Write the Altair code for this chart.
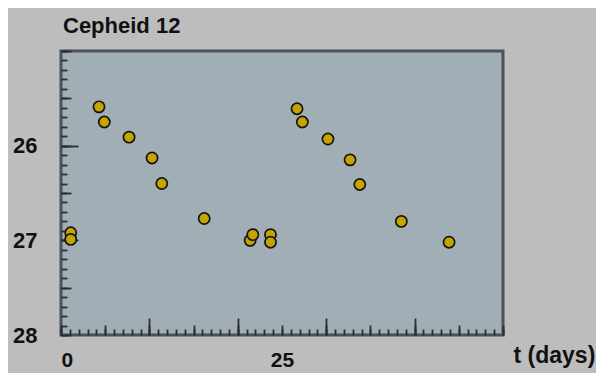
import altair as alt
import pandas as pd

# Data
t_days = [1.1, 1.1, 4.3, 4.9, 7.7, 10.3, 11.4, 16.2, 21.4, 21.7, 23.7, 23.7,
          26.7, 27.3, 30.2, 32.7, 33.8, 38.5, 43.9]
magnitude = [26.92, 26.99, 25.59, 25.75, 25.91, 26.13, 26.40, 26.77, 27.00, 26.94,
             26.94, 27.02, 25.61, 25.75, 25.93, 26.15, 26.41, 26.80, 27.02]

x_labels = [0, 25]
y_labels = [26, 27, 28]
x_minor = list(range(0, 51))
x_medium = list(range(0, 51, 5))
x_major = [10, 20, 30, 40]
y_minor = [round(25 + 0.1 * i, 1) for i in range(31)]
y_medium = [round(25 + 0.5 * i, 1) for i in range(7)]
y_major = [26, 27]

df = pd.DataFrame({"t": t_days, "m": magnitude})

FONT = "Liberation Sans"
TICK = "#2a2e31"

xs = alt.Scale(domain=[0, 50], nice=False, zero=False)
ys = alt.Scale(domain=[25, 28], nice=False, zero=False, reverse=True)

points = alt.Chart(df).mark_circle(
    size=125, color="#c4a500", opacity=1, stroke="#141414", strokeWidth=1.7
).encode(
    x=alt.X("t:Q", scale=xs, axis=alt.Axis(
        values=x_labels, ticks=False, domain=False, grid=False, orient="bottom",
        labelFont=FONT, labelFontSize=21, labelFontWeight="bold", labelColor="#111111",
        labelPadding=14, labelBaseline="top",
        labelAlign={"condition": {"test": "datum.value <= 0", "value": "left"}, "value": "center"},
        title="t (days)", titleFont=FONT, titleFontSize=23, titleFontWeight="bold",
        titleColor="#111111", titleX=452, titleY=20, titleAlign="left",
        titleBaseline="middle")),
    y=alt.Y("m:Q", scale=ys, axis=alt.Axis(
        values=y_labels, ticks=False, domain=False, grid=False, orient="left",
        labelFont=FONT, labelFontSize=22, labelFontWeight="bold", labelColor="#111111",
        labelPadding=24, title=None)),
)


def tick_layer(xv, yv, size):
    return alt.Chart(df).mark_point(opacity=0).encode(
        x=alt.X("t:Q", scale=xs, axis=alt.Axis(
            values=xv, labels=False, domain=False, grid=False, orient="bottom",
            tickSize=size, offset=-size, tickColor=TICK, tickWidth=1.8, title=None)),
        y=alt.Y("m:Q", scale=ys, axis=alt.Axis(
            values=yv, labels=False, domain=False, grid=False, orient="left",
            tickSize=size, offset=-size, tickColor=TICK, tickWidth=1.8, title=None)),
    )


chart = alt.layer(
    tick_layer(x_minor, y_minor, 6),
    tick_layer(x_medium, y_medium, 10),
    tick_layer(x_major, y_major, 17),
    points,
).resolve_axis(x="independent", y="independent").properties(
    width=442, height=284,
    autosize=alt.AutoSizeParams(type="none"),
    padding={"left": 53, "top": 43, "right": 93, "bottom": 38},
    background="#bdbdbd",
    title=alt.TitleParams("Cepheid 12", anchor="start", frame="group", font=FONT,
                          fontSize=22, fontWeight="bold", color="#111111",
                          offset=12, dx=2),
).configure_view(
    fill="#a1aeb6", stroke="#4a535a", strokeWidth=3
)

chart.save("out.html", embed_options={"renderer": "svg", "actions": False})
